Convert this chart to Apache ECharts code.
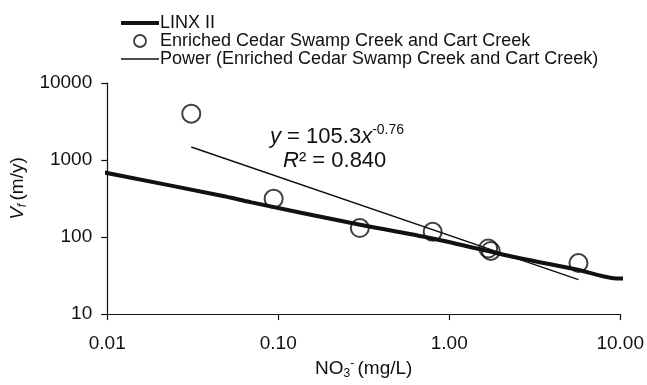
<!DOCTYPE html>
<html>
<head>
<meta charset="utf-8">
<script src="https://cdn.jsdelivr.net/npm/echarts@6/dist/echarts.min.js"></script>
<style>
  html, body { margin: 0; padding: 0; background: #fff; }
  #chart { width: 647px; height: 385px; }
</style>
</head>
<body>
<div id="chart"></div>
<script>
// Axis ranges (log10 decades)
const xTicks = [0.01, 0.1, 1, 10];
const yTicks = [10, 100, 1000, 10000];

// LINX II relationship (uptake velocity vs nitrate)
const linxX = [0.0093, 0.0467, 0.0697, 0.273, 0.796, 2.59, 5.55, 9.1, 11.1];
const linxY = [700, 344, 282, 151, 96, 53, 38, 29.3, 29];

// Enriched Cedar Swamp Creek and Cart Creek measurements
const streamX = [0.031, 0.094, 0.30, 0.80, 1.69, 1.75, 5.7];
const streamY = [4000, 315, 131, 117, 71, 66, 46];

// Power-law fit: y = 105.3 x^-0.76, R² = 0.840
const fitCoef = 105.3;
const fitExp = -0.76;
const fitR2 = '0.840';
const fitRange = [0.031, 5.7];

const FONT = "'Liberation Sans', Arial, sans-serif";
const INK = '#111';
const pairs = (xs, ys) => xs.map((x, i) => [x, ys[i]]);
const fitLine = fitRange.map(x => [x, fitCoef * Math.pow(x, fitExp)]);

const NAMES = [
  'LINX II',
  'Enriched Cedar Swamp Creek and Cart Creek',
  'Power (Enriched Cedar Swamp Creek and Cart Creek)'
];

const chart = echarts.init(document.getElementById('chart'), null, { renderer: 'canvas' });

chart.setOption({
  animation: false,
  backgroundColor: '#fff',
  color: [INK, INK, INK],
  textStyle: { fontFamily: FONT, color: INK },
  grid: { left: 105, right: 26, top: 83, bottom: 58, containLabel: false },
  legend: {
    orient: 'vertical',
    left: 114,
    top: 9,
    itemWidth: 38,
    itemHeight: 12,
    itemGap: 0,
    textStyle: { fontFamily: FONT, fontSize: 18, color: INK, lineHeight: 17, padding: [0, 0, 0, -4] },
    data: [
      { name: NAMES[0], itemStyle: { color: 'rgba(0,0,0,0)', borderWidth: 0 }, lineStyle: { color: INK, width: 4 } },
      { name: NAMES[1], icon: 'circle', itemStyle: { color: 'rgba(255,255,255,0)', borderColor: INK, borderWidth: 1.8 } },
      { name: NAMES[2], itemStyle: { color: 'rgba(0,0,0,0)', borderWidth: 0 }, lineStyle: { color: INK, width: 1.5 } }
    ]
  },
  xAxis: {
    type: 'log',
    logBase: 10,
    min: xTicks[0],
    max: xTicks[xTicks.length - 1],
    splitLine: { show: false },
    minorTick: { show: false },
    axisLine: { lineStyle: { color: INK, width: 1.2 } },
    axisTick: { inside: false, length: 6, lineStyle: { color: INK, width: 1.2 } },
    axisLabel: {
      fontFamily: FONT, fontSize: 19, color: INK, margin: 20,
      formatter: v => Number(v).toFixed(2)
    },
    name: '{n|NO}{sub|3}{sup|-} {n|(mg/L)}',
    nameLocation: 'middle',
    nameGap: 34,
    nameTextStyle: {
      rich: {
        n: { fontFamily: FONT, fontSize: 19, color: INK, lineHeight: 22 },
        sub: { fontFamily: FONT, fontSize: 12, color: INK, verticalAlign: 'bottom', lineHeight: 22, padding: [6, 0, 0, 0] },
        sup: { fontFamily: FONT, fontSize: 12, color: INK, verticalAlign: 'top', lineHeight: 22, padding: [0, 0, 8, 0] }
      }
    }
  },
  yAxis: {
    type: 'log',
    logBase: 10,
    min: yTicks[0],
    max: yTicks[yTicks.length - 1],
    splitLine: { show: false },
    minorTick: { show: false },
    axisLine: { show: true, lineStyle: { color: INK, width: 1.2 } },
    axisTick: { show: true, inside: false, length: 6, lineStyle: { color: INK, width: 1.2 } },
    axisLabel: {
      fontFamily: FONT, fontSize: 19, color: INK, margin: 15,
      formatter: v => String(Math.round(v))
    },
    name: '{v|V}{sub|f} {n|(m/y)}',
    nameLocation: 'middle',
    nameRotate: 90,
    nameGap: 72,
    nameTextStyle: {
      padding: [0, 0, 0, 20],
      rich: {
        v: { fontFamily: FONT, fontSize: 19, fontStyle: 'italic', color: INK, lineHeight: 22 },
        n: { fontFamily: FONT, fontSize: 19, color: INK, lineHeight: 22 },
        sub: { fontFamily: FONT, fontSize: 12, fontStyle: 'italic', color: INK, verticalAlign: 'bottom', lineHeight: 22, padding: [6, 0, 0, 0] }
      }
    }
  },
  series: [
    {
      name: NAMES[0],
      type: 'line',
      data: pairs(linxX, linxY),
      smooth: 0.3,
      symbol: 'none',
      clip: false,
      itemStyle: { color: INK },
      lineStyle: { color: INK, width: 4 },
      z: 2
    },
    {
      name: NAMES[1],
      type: 'scatter',
      data: pairs(streamX, streamY),
      symbol: 'circle',
      symbolSize: 18,
      itemStyle: { color: 'rgba(255,255,255,0)', borderColor: INK, borderWidth: 2 },
      z: 4
    },
    {
      name: NAMES[2],
      type: 'line',
      data: fitLine,
      symbol: 'none',
      itemStyle: { color: INK },
      lineStyle: { color: INK, width: 1.5 },
      z: 3
    }
  ],
  graphic: [
    {
      type: 'text',
      left: 270,
      top: 123,
      style: {
        text: '{i|y} = 105.3{i|x}{sup|' + fitExp.toFixed(2) + '}',
        rich: {
          i: { fontFamily: FONT, fontSize: 22, fontStyle: 'italic', fill: INK, lineHeight: 27 },
          sup: { fontFamily: FONT, fontSize: 14, fill: INK, verticalAlign: 'top', lineHeight: 27, padding: [0, 0, 10, 0] }
        },
        fontFamily: FONT, fontSize: 22, fill: INK
      }
    },
    {
      type: 'text',
      left: 283,
      top: 150,
      style: {
        text: '{i|R}² = ' + fitR2,
        rich: {
          i: { fontFamily: FONT, fontSize: 22, fontStyle: 'italic', fill: INK }
        },
        fontFamily: FONT, fontSize: 22, fill: INK
      }
    }
  ]
});
</script>
</body>
</html>
